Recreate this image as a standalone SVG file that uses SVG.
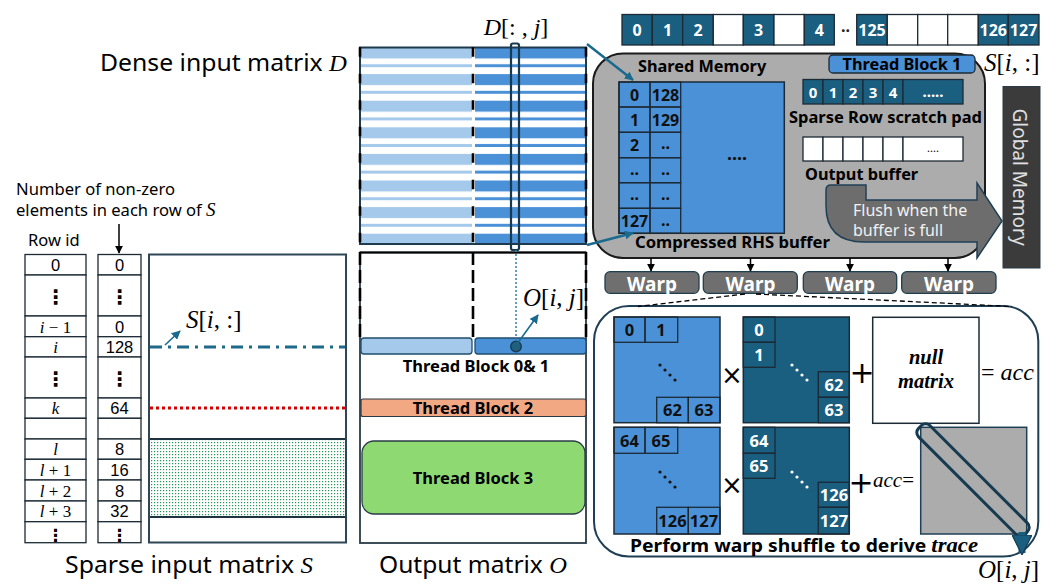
<svg xmlns="http://www.w3.org/2000/svg" width="1057" height="584" viewBox="0 0 1057 584">
<defs>
<style>
.s{font-family:"Noto Sans","Open Sans","DejaVu Sans",sans-serif}
.n{font-family:"Liberation Sans","Noto Sans",sans-serif}
.b{font-family:"Noto Sans","Open Sans","DejaVu Sans",sans-serif;font-weight:bold}
.m{font-family:"Liberation Serif","DejaVu Serif",serif}
.mi{font-family:"Liberation Serif","DejaVu Serif",serif;font-style:italic}
.c{stroke:#1c2a35;stroke-width:1.3}
.tl{fill:#1a5e80}
.mb{fill:#4b91d8}
.lb{fill:#a5c9eb}
.wt{fill:#fff}
.ctr{text-anchor:middle}
.dash{stroke:#000;stroke-width:2.6;stroke-dasharray:13 5;fill:none}
.dashd{stroke:#000;stroke-width:2.6;stroke-dasharray:9.5 17;fill:none}
</style>
<pattern id="pl" x="0" y="47.5" width="20" height="26.6" patternUnits="userSpaceOnUse"><rect width="20" height="11" fill="#a5c9eb"/><rect y="16.7" width="20" height="3" fill="#a5c9eb"/></pattern>
<pattern id="pd" x="0" y="47.5" width="20" height="26.6" patternUnits="userSpaceOnUse"><rect width="20" height="11" fill="#4b91d8"/><rect y="16.7" width="20" height="3" fill="#4b91d8"/></pattern>
<pattern id="gd" width="3" height="3" patternUnits="userSpaceOnUse"><rect width="3" height="3" fill="#fff"/><rect x="1" y="1" width="1.2" height="1.2" fill="#1f9a55"/></pattern>
<marker id="aT" viewBox="0 0 10 10" refX="9" refY="5" markerWidth="9" markerHeight="9" markerUnits="userSpaceOnUse" orient="auto"><path d="M0,0 L10,5 L0,10 z" fill="#1a6a8e"/></marker>
<marker id="aK" viewBox="0 0 10 10" refX="9" refY="5" markerWidth="8" markerHeight="8" markerUnits="userSpaceOnUse" orient="auto"><path d="M0,0 L10,5 L0,10 z" fill="#000"/></marker>
<marker id="aB" viewBox="0 0 10 10" refX="9" refY="5" markerWidth="20" markerHeight="20" markerUnits="userSpaceOnUse" orient="auto"><path d="M0,0 L10,5 L0,10 z" fill="#1a5e80" stroke="#163a50" stroke-width="0.6"/></marker>
</defs>

<!-- Sparse matrix S -->
<g id="sparse-label">
<text class="s" x="16" y="195" font-size="16.6" textLength="159" lengthAdjust="spacingAndGlyphs">Number of non-zero</text>
<text class="s" x="16" y="216" font-size="16.6">elements in each row of <tspan class="mi" font-size="19">S</tspan></text>
<text class="s" x="28" y="246" font-size="16.5">Row id</text>
<text class="s" x="65" y="573" font-size="23.5" textLength="248" lengthAdjust="spacingAndGlyphs">Sparse input matrix <tspan class="mi">S</tspan></text>
</g>

<g id="row-id-table" class="c" fill="#fff">
<rect x="25" y="254.5" width="61" height="20.5"/><rect x="25" y="275" width="61" height="41"/><rect x="25" y="316" width="61" height="20.7"/><rect x="25" y="336.7" width="61" height="20.3"/><rect x="25" y="357" width="61" height="41"/><rect x="25" y="398" width="61" height="20.3"/><rect x="25" y="418.3" width="61" height="20.7"/><rect x="25" y="439" width="61" height="20.3"/><rect x="25" y="459.3" width="61" height="20.7"/><rect x="25" y="480" width="61" height="21"/><rect x="25" y="501" width="61" height="20.7"/><rect x="25" y="521.7" width="61" height="21"/>
</g>
<g id="nnz-table" class="c" fill="#fff">
<rect x="98" y="254.5" width="43" height="20.5"/><rect x="98" y="275" width="43" height="41"/><rect x="98" y="316" width="43" height="20.7"/><rect x="98" y="336.7" width="43" height="20.3"/><rect x="98" y="357" width="43" height="41"/><rect x="98" y="398" width="43" height="20.3"/><rect x="98" y="418.3" width="43" height="20.7"/><rect x="98" y="439" width="43" height="20.3"/><rect x="98" y="459.3" width="43" height="20.7"/><rect x="98" y="480" width="43" height="21"/><rect x="98" y="501" width="43" height="20.7"/><rect x="98" y="521.7" width="43" height="21"/>
</g>
<g id="table-text" font-size="17">
<text class="n ctr" x="55.5" y="271" font-size="16.5">0</text>
<text class="b ctr" x="55.5" y="304" font-size="20">⋮</text>
<text class="m ctr" x="55.5" y="332.5"><tspan class="mi">i</tspan> − 1</text>
<text class="mi ctr" x="55.5" y="353">i</text>
<text class="b ctr" x="55.5" y="386" font-size="20">⋮</text>
<text class="mi ctr" x="55.5" y="414">k</text>
<text class="mi ctr" x="55.5" y="455">l</text>
<text class="m ctr" x="55.5" y="475.5"><tspan class="mi">l</tspan> + 1</text>
<text class="m ctr" x="55.5" y="496.5"><tspan class="mi">l</tspan> + 2</text>
<text class="m ctr" x="55.5" y="517"><tspan class="mi">l</tspan> + 3</text>
<text class="b ctr" x="55.5" y="540.5" font-size="17">⋮</text>
<text class="n ctr" x="119.5" y="271" font-size="16.5">0</text>
<text class="b ctr" x="119.5" y="304" font-size="20">⋮</text>
<text class="n ctr" x="119.5" y="332.5" font-size="16.5">0</text>
<text class="n ctr" x="119.5" y="353" font-size="16.5">128</text>
<text class="b ctr" x="119.5" y="386" font-size="20">⋮</text>
<text class="n ctr" x="119.5" y="414" font-size="16.5">64</text>
<text class="n ctr" x="119.5" y="455" font-size="16.5">8</text>
<text class="n ctr" x="119.5" y="475.5" font-size="16.5">16</text>
<text class="n ctr" x="119.5" y="496.5" font-size="16.5">8</text>
<text class="n ctr" x="119.5" y="517" font-size="16.5">32</text>
<text class="b ctr" x="119.5" y="540.5" font-size="17">⋮</text>
</g>

<g id="sparse-matrix">
<rect x="149" y="439" width="197" height="78" fill="url(#gd)"/>
<line x1="149" y1="517" x2="346" y2="517" stroke="#1e3340" stroke-width="2"/>
<line x1="149" y1="439" x2="346" y2="439" stroke="#1e3340" stroke-width="2"/>
<rect x="149" y="254.5" width="197" height="288" fill="none" stroke="#2f4656" stroke-width="2"/>
<line x1="150" y1="347" x2="345" y2="347" stroke="#1f6a8a" stroke-width="3" stroke-dasharray="12 6 3 6"/>
<line x1="150" y1="408" x2="345" y2="408" stroke="#d40000" stroke-width="3" stroke-dasharray="3 3"/>
<text class="m" x="186" y="328" font-size="25"><tspan class="mi">S</tspan>[<tspan class="mi">i</tspan>, :]</text>
</g>

<!-- Dense matrix D -->
<g id="dense-matrix">
<text class="s" x="100" y="71" font-size="23.5" textLength="247" lengthAdjust="spacingAndGlyphs">Dense input matrix <tspan class="mi">D</tspan></text>
<rect x="361" y="48" width="111" height="195" fill="url(#pl)"/>
<rect x="475" y="48" width="111" height="195" fill="url(#pd)"/>
<rect x="360" y="47.5" width="226" height="196.5" fill="none" stroke="#1f3a4d" stroke-width="2"/>
<line class="dashd" x1="360" y1="47.3" x2="360" y2="244"/>
<line class="dashd" x1="473" y1="47.3" x2="473" y2="244"/>
<line class="dashd" x1="586" y1="47.3" x2="586" y2="244"/>
<rect x="511" y="43.5" width="8" height="206.5" rx="2" fill="none" stroke="#163a50" stroke-width="2.2"/>
<text class="m" x="516" y="35" font-size="24" text-anchor="middle"><tspan class="mi">D</tspan>[: , <tspan class="mi">j</tspan>]</text>
</g>

<!-- Output matrix O -->
<g id="output-matrix">
<rect x="360" y="252.5" width="226" height="290.5" fill="#fff" stroke="#2a3b47" stroke-width="1.8"/>
<line class="dash" x1="360" y1="252" x2="360" y2="338"/>
<line class="dash" x1="473" y1="252" x2="473" y2="338"/>
<line class="dash" x1="586" y1="252" x2="586" y2="338"/>
<line x1="360" y1="252.5" x2="586" y2="252.5" stroke="#000" stroke-width="2"/>
<text class="s" x="379" y="573" font-size="23.5" textLength="188" lengthAdjust="spacingAndGlyphs">Output matrix <tspan class="mi">O</tspan></text>
<text class="m" x="523" y="306" font-size="25"><tspan class="mi">O</tspan>[<tspan class="mi">i</tspan>, <tspan class="mi">j</tspan>]</text>
</g>
<g id="tb01">
<rect x="361" y="338" width="111" height="16" rx="3" class="lb" stroke="#1f4e6e" stroke-width="1.3"/>
<rect x="475" y="338" width="111" height="16" rx="3" class="mb" stroke="#1f4e6e" stroke-width="1.3"/>
<text class="b ctr" x="476" y="372" font-size="16.5">Thread Block 0&amp; 1</text>
</g>
<g id="tb2">
<rect x="361" y="399" width="225" height="17.5" rx="2" fill="#f2a883" stroke="#2a3b47" stroke-width="1.2"/>
<text class="b ctr" x="473" y="414" font-size="16.5">Thread Block 2</text>
</g>
<g id="tb3">
<rect x="362" y="441" width="223" height="73" rx="12" fill="#8fd973" stroke="#2a3b47" stroke-width="1.3"/>
<text class="b ctr" x="473" y="484" font-size="16.5">Thread Block 3</text>
</g>

<!-- Top sparse row -->
<g id="sparse-row" font-size="16">
<g class="c">
<rect x="622" y="14.5" width="30.3" height="30.5" class="tl"/><rect x="652.3" y="14.5" width="30.4" height="30.5" class="tl"/><rect x="682.7" y="14.5" width="30.6" height="30.5" class="tl"/><rect x="713.3" y="14.5" width="30" height="30.5" class="wt"/><rect x="743.3" y="14.5" width="30.7" height="30.5" class="tl"/><rect x="774" y="14.5" width="30.3" height="30.5" class="wt"/><rect x="804.3" y="14.5" width="30" height="30.5" class="tl"/>
<rect x="856.7" y="14.5" width="30.6" height="30.5" class="tl"/><rect x="887.3" y="14.5" width="30.4" height="30.5" class="wt"/><rect x="917.7" y="14.5" width="30" height="30.5" class="wt"/><rect x="947.7" y="14.5" width="30.6" height="30.5" class="wt"/><rect x="978.3" y="14.5" width="30" height="30.5" class="tl"/><rect x="1008.3" y="14.5" width="30.7" height="30.5" class="tl"/>
</g>
<g class="b ctr" fill="#fff">
<text x="637" y="36">0</text><text x="667.5" y="36">1</text><text x="698" y="36">2</text><text x="758.6" y="36">3</text><text x="819.3" y="36">4</text><text x="872" y="36">125</text><text x="993.3" y="36">126</text><text x="1023.6" y="36">127</text>
</g>
<text class="b ctr" x="845.5" y="36" font-size="16" fill="#222">··</text>
<text class="m" x="984" y="71" font-size="25"><tspan class="mi">S</tspan>[<tspan class="mi">i</tspan>, :]</text>
</g>

<!-- Shared memory -->
<g id="shared-memory">
<rect x="593" y="53.5" width="392" height="204.5" rx="30" fill="#acacac" stroke="#1b1b1b" stroke-width="2"/>
<text class="b" x="638" y="72" font-size="16.3">Shared Memory</text>
</g>
<g id="thread-block-1">
<rect x="829" y="55" width="146" height="18" rx="4" class="mb" stroke="#1c2a35" stroke-width="1.3"/>
<text class="b ctr" x="902" y="70" font-size="16.3">Thread Block 1</text>
</g>
<g id="rhs-buffer">
<rect x="619" y="82" width="165.3" height="151.3" class="mb" stroke="#1c2a35" stroke-width="1.5"/>
<g class="c" fill="none">
<rect x="619" y="82" width="31" height="25"/><rect x="619" y="107" width="31" height="25.3"/><rect x="619" y="132.3" width="31" height="25.4"/><rect x="619" y="157.7" width="31" height="25"/><rect x="619" y="182.7" width="31" height="25.6"/><rect x="619" y="208.3" width="31" height="25"/>
<rect x="650" y="82" width="30.7" height="25"/><rect x="650" y="107" width="30.7" height="25.3"/><rect x="650" y="132.3" width="30.7" height="25.4"/><rect x="650" y="157.7" width="30.7" height="25"/><rect x="650" y="182.7" width="30.7" height="25.6"/><rect x="650" y="208.3" width="30.7" height="25"/>
</g>
<g class="b ctr" font-size="16" fill="#111">
<text x="634.5" y="101">0</text><text x="634.5" y="126">1</text><text x="634.5" y="151">2</text><text x="634.5" y="175">..</text><text x="634.5" y="200">..</text><text x="634.5" y="227">127</text>
<text x="665.5" y="101">128</text><text x="665.5" y="126">129</text><text x="665.5" y="149">..</text><text x="665.5" y="175">..</text><text x="665.5" y="200">..</text><text x="665.5" y="226">..</text>
</g>
<text class="b ctr" x="737" y="160" font-size="18" fill="#111">....</text>
<text class="b" x="635" y="248" font-size="16.5" textLength="195" lengthAdjust="spacingAndGlyphs">Compressed RHS buffer</text>
</g>
<g id="scratch-pad">
<g class="c">
<rect x="803" y="79.5" width="20" height="24.5" class="tl"/><rect x="823" y="79.5" width="20" height="24.5" class="tl"/><rect x="843" y="79.5" width="20" height="24.5" class="tl"/><rect x="863" y="79.5" width="20" height="24.5" class="tl"/><rect x="883" y="79.5" width="20" height="24.5" class="tl"/><rect x="903" y="79.5" width="60" height="24.5" class="tl"/>
</g>
<g class="b ctr" font-size="15" fill="#fff">
<text x="813" y="97.5">0</text><text x="833" y="97.5">1</text><text x="853" y="97.5">2</text><text x="873" y="97.5">3</text><text x="893" y="97.5">4</text><text x="933" y="97">.....</text>
</g>
<text class="b" x="789" y="123" font-size="16.3" textLength="193" lengthAdjust="spacingAndGlyphs">Sparse Row scratch pad</text>
</g>
<g id="output-buffer">
<g class="c" fill="#fff">
<rect x="803" y="137" width="20" height="24"/><rect x="823" y="137" width="20" height="24"/><rect x="843" y="137" width="20" height="24"/><rect x="863" y="137" width="20" height="24"/><rect x="883" y="137" width="20" height="24"/><rect x="903" y="137" width="60" height="24"/>
</g>
<text class="s ctr" x="933" y="152" font-size="11">....</text>
<text class="b" x="805" y="180" font-size="16.3">Output buffer</text>
</g>
<g id="flush-arrow">
<path d="M826 190 Q826 185 831 185 L866 185 L866 200 L977 200 L977 183 L1002 221 L977 258 L977 242 L864 242 Q826 242 826 206 Z" fill="#6d6d6d" stroke="#1f3f55" stroke-width="1.5"/>
<text class="s" x="853" y="216" font-size="16" fill="#f2f2f2">Flush when the</text>
<text class="s" x="853" y="236" font-size="16" fill="#f2f2f2">buffer is full</text>
</g>
<g id="global-memory">
<rect x="1003" y="86.5" width="37" height="181.5" fill="#3b3b3b" stroke="#2a3b47" stroke-width="1"/>
<text class="s ctr" x="1019" y="177" font-size="19" fill="#e0e0e0" transform="rotate(90 1019 177)" dy="6.5">Global Memory</text>
</g>

<!-- Warps -->
<g id="warp-1"><rect x="605" y="271.7" width="94" height="21.6" rx="5" fill="#6f6f6f" stroke="#1f3f4f" stroke-width="1.3"/><text class="b ctr" x="652" y="290.5" font-size="19" fill="#fff">Warp</text></g>
<g id="warp-2"><rect x="703.3" y="271.7" width="94" height="21.6" rx="5" fill="#6f6f6f" stroke="#1f3f4f" stroke-width="1.3"/><text class="b ctr" x="750.5" y="290.5" font-size="19" fill="#fff">Warp</text></g>
<g id="warp-3"><rect x="803.3" y="271.7" width="93.4" height="21.6" rx="5" fill="#6f6f6f" stroke="#1f3f4f" stroke-width="1.3"/><text class="b ctr" x="850" y="290.5" font-size="19" fill="#fff">Warp</text></g>
<g id="warp-4"><rect x="901.7" y="271.7" width="94.3" height="21.6" rx="5" fill="#6f6f6f" stroke="#1f3f4f" stroke-width="1.3"/><text class="b ctr" x="949" y="290.5" font-size="19" fill="#fff">Warp</text></g>

<!-- Warp detail -->
<g id="warp-detail">
<rect x="594" y="306" width="444.3" height="250.5" rx="35" fill="#fff" stroke="#1f3f55" stroke-width="2"/>
</g>
<g id="mat-a1">
<rect x="614" y="317" width="106" height="105.7" class="mb" stroke="#1c2a35" stroke-width="1.5"/>
<g class="c" fill="none"><rect x="614" y="317" width="31" height="25.3"/><rect x="645" y="317" width="32.7" height="25.3"/><rect x="656.7" y="397.3" width="31.6" height="25.4"/><rect x="688.3" y="397.3" width="31.7" height="25.4"/></g>
<g class="b ctr" font-size="16.5" fill="#111"><text x="629.5" y="336">0</text><text x="661" y="336">1</text><text x="672.5" y="416">62</text><text x="704" y="416">63</text></g>
<g fill="#111"><circle cx="660" cy="365" r="1.6"/><circle cx="665" cy="370" r="1.6"/><circle cx="670" cy="375" r="1.6"/><circle cx="675" cy="380" r="1.6"/></g>
</g>
<g id="mat-b1">
<rect x="743.3" y="317" width="106" height="105.7" class="tl" stroke="#1c2a35" stroke-width="1.5"/>
<g class="c" fill="none"><rect x="743.3" y="317" width="31.7" height="25.3"/><rect x="743.3" y="342.3" width="31.7" height="25"/><rect x="818.3" y="371.7" width="31" height="25.6"/><rect x="818.3" y="397.3" width="31" height="25.4"/></g>
<g class="b ctr" font-size="16.5" fill="#fff"><text x="759" y="336">0</text><text x="759" y="361">1</text><text x="834" y="390.5">62</text><text x="834" y="416">63</text></g>
<g fill="#fff"><circle cx="792" cy="365" r="1.6"/><circle cx="797" cy="370" r="1.6"/><circle cx="802" cy="375" r="1.6"/><circle cx="807" cy="380" r="1.6"/></g>
</g>
<g id="null-matrix">
<rect x="872.7" y="317.3" width="106.3" height="106" fill="#fff" stroke="#1c2a35" stroke-width="1.5"/>
<text class="mi ctr" x="926" y="364" font-size="20.5" font-weight="bold">null</text>
<text class="mi ctr" x="926" y="388" font-size="20.5" font-weight="bold">matrix</text>
</g>
<g id="ops-1">
<text x="732" y="384" font-family="DejaVu Sans,sans-serif" font-size="26" text-anchor="middle">×</text>
<text x="862" y="383" font-family="DejaVu Sans,sans-serif" font-size="30" text-anchor="middle">+</text>
<text class="m" x="981" y="380" font-size="24">= <tspan class="mi">acc</tspan></text>
</g>
<g id="mat-a2">
<rect x="614" y="427.3" width="106" height="106.7" class="mb" stroke="#1c2a35" stroke-width="1.5"/>
<g class="c" fill="none"><rect x="614" y="427.3" width="31" height="26"/><rect x="645" y="427.3" width="32.7" height="26"/><rect x="656.7" y="507.3" width="31.6" height="26.7"/><rect x="688.3" y="507.3" width="31.7" height="26.7"/></g>
<g class="b ctr" font-size="16.5" fill="#111"><text x="629.5" y="446.5">64</text><text x="661" y="446.5">65</text><text x="672.5" y="527">126</text><text x="704" y="527">127</text></g>
<g fill="#111"><circle cx="660" cy="472" r="1.6"/><circle cx="665" cy="477" r="1.6"/><circle cx="670" cy="482" r="1.6"/><circle cx="675" cy="487" r="1.6"/></g>
</g>
<g id="mat-b2">
<rect x="743.3" y="427.3" width="106" height="106.7" class="tl" stroke="#1c2a35" stroke-width="1.5"/>
<g class="c" fill="none"><rect x="743.3" y="427.3" width="31.7" height="26"/><rect x="743.3" y="453.3" width="31.7" height="25"/><rect x="818.3" y="482.3" width="31" height="25"/><rect x="818.3" y="507.3" width="31" height="26.7"/></g>
<g class="b ctr" font-size="16.5" fill="#fff"><text x="759" y="446.5">64</text><text x="759" y="471.5">65</text><text x="834" y="501">126</text><text x="834" y="527">127</text></g>
<g fill="#fff"><circle cx="792" cy="472" r="1.6"/><circle cx="797" cy="477" r="1.6"/><circle cx="802" cy="482" r="1.6"/><circle cx="807" cy="487" r="1.6"/></g>
</g>
<g id="ops-2">
<text x="732" y="494" font-family="DejaVu Sans,sans-serif" font-size="26" text-anchor="middle">×</text>
<text x="861" y="493" font-family="DejaVu Sans,sans-serif" font-size="30" text-anchor="middle">+</text>
<text class="m" x="873" y="487" font-size="21"><tspan class="mi">acc</tspan>=</text>
</g>
<g id="result-matrix">
<rect x="920.7" y="427.3" width="106" height="106.7" fill="#acacac" stroke="#1f3f55" stroke-width="1.5"/>
<rect x="898" y="472" width="150" height="16" rx="6" fill="none" stroke="#163a50" stroke-width="3" transform="rotate(45 973 480)"/>
<text class="b" x="630" y="552" font-size="17" textLength="348" lengthAdjust="spacingAndGlyphs">Perform warp shuffle to derive <tspan class="mi" font-size="20">trace</tspan></text>
<text class="m" x="978" y="578" font-size="25"><tspan class="mi">O</tspan>[<tspan class="mi">i</tspan>, <tspan class="mi">j</tspan>]</text>
</g>

<!-- Connectors -->
<g id="connectors" fill="none">
<line x1="119" y1="224" x2="119" y2="253" stroke="#000" stroke-width="1.5" marker-end="url(#aK)"/>
<line x1="165" y1="345" x2="180" y2="331" stroke="#1a6a8e" stroke-width="1.6" marker-end="url(#aT)"/>
<line x1="516" y1="250" x2="516" y2="342" stroke="#2e7fa3" stroke-width="1.5" stroke-dasharray="2 2"/>
<circle cx="516" cy="346.5" r="5.3" fill="#1f5f7f" stroke="#163a50" stroke-width="1.3"/>
<line x1="517" y1="344" x2="538" y2="315" stroke="#1a6a8e" stroke-width="1.6" marker-end="url(#aT)"/>
<line x1="587" y1="44" x2="633" y2="80" stroke="#1a6a8e" stroke-width="2.5" marker-end="url(#aT)"/>
<line x1="587" y1="245" x2="633" y2="233" stroke="#1a6a8e" stroke-width="2.5" marker-end="url(#aT)"/>
<line x1="651" y1="258" x2="651" y2="271" stroke="#000" stroke-width="1.5" marker-end="url(#aK)"/>
<line x1="750.5" y1="258" x2="750.5" y2="271" stroke="#000" stroke-width="1.5" marker-end="url(#aK)"/>
<line x1="850" y1="258" x2="850" y2="271" stroke="#000" stroke-width="1.5" marker-end="url(#aK)"/>
<line x1="948" y1="258" x2="948" y2="271" stroke="#000" stroke-width="1.5" marker-end="url(#aK)"/>
<line x1="745" y1="294" x2="638" y2="306.5" stroke="#000" stroke-width="1.3" stroke-dasharray="5 3"/>
<line x1="756" y1="294" x2="1012" y2="306.5" stroke="#000" stroke-width="1.3" stroke-dasharray="5 3"/>
<line x1="1022" y1="532" x2="1022" y2="553" stroke="#1a5e80" stroke-width="7" marker-end="url(#aB)"/>
</g>
</svg>
